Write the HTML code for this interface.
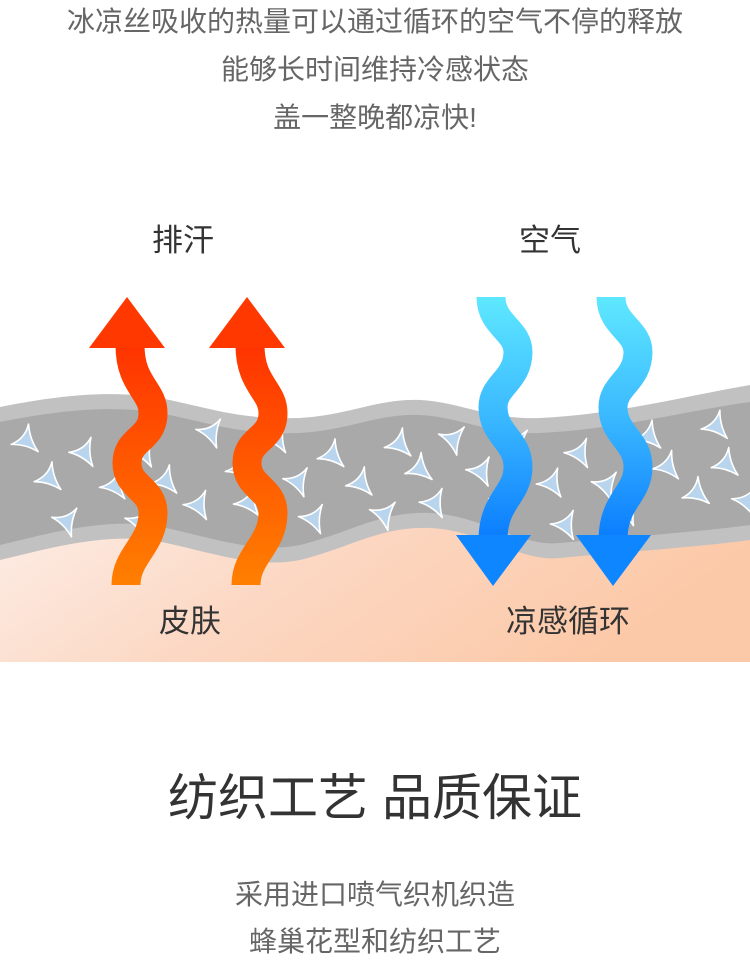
<!DOCTYPE html>
<html><head><meta charset="utf-8"><style>
html,body{margin:0;padding:0;background:#fff;width:750px;height:960px;overflow:hidden}
.t{position:absolute;left:0;width:750px;text-align:center;font-family:"Liberation Sans","Noto Sans CJK SC",sans-serif;white-space:nowrap;line-height:1.2}
</style></head><body>
<svg id="s" width="750" height="960" style="position:absolute;left:0;top:0" xmlns="http://www.w3.org/2000/svg">
<defs>
<linearGradient id="skin" x1="0" y1="0" x2="1" y2="0.3"><stop offset="0" stop-color="#fdeee8"/><stop offset="0.5" stop-color="#fcd7c2"/><stop offset="1" stop-color="#fcc9a8"/></linearGradient>
<linearGradient id="or" x1="0" y1="1" x2="0" y2="0"><stop offset="0" stop-color="#ff7f00"/><stop offset="1" stop-color="#ff3300"/></linearGradient>
<linearGradient id="bl" x1="0" y1="0" x2="0" y2="1"><stop offset="0" stop-color="#5ee8ff"/><stop offset="0.5" stop-color="#3ab8ff"/><stop offset="1" stop-color="#0a7cff"/></linearGradient>
</defs>
<rect x="0" y="500" width="750" height="162" fill="url(#skin)"/>
<path d="M0,407 C60,395 110,390 160,398 C210,408 240,420 300,418 C350,415 380,398 420,400 C460,402 490,420 540,418 C620,414 690,395 750,385 L750,540 C690,548 620,552 560,558 C520,562 480,530 430,528 C380,526 350,548 300,560 C250,570 200,548 150,540 C100,534 50,548 0,560 Z" fill="#c1c1c1"/>
<path d="M0,422 C60,410 110,405 160,413 C210,423 240,435 300,433 C350,430 380,413 420,415 C460,417 490,435 540,433 C620,429 690,410 750,402 L750,525 C690,533 620,537 560,543 C520,547 480,515 430,513 C380,511 350,533 300,545 C250,555 200,533 150,525 C100,519 50,533 0,545 Z" fill="#a9a9a9"/>
<g id="tri"></g>
<g fill="none" stroke="url(#or)" stroke-width="29">
<path d="M126,585 C126,555 153,545 153,513 C153,488 127,488 127,463 C127,438 153,440 153,413 C153,390 130,385 130,345"/>
<path d="M246,585 C246,555 273,545 273,513 C273,488 247,488 247,463 C247,438 273,440 273,413 C273,390 250,385 250,345"/>
</g>
<polygon points="127,297 165,348 89,348" fill="#ff3800"/>
<polygon points="247,297 285,348 209,348" fill="#ff3800"/>
<g fill="none" stroke="url(#bl)" stroke-width="29">
<path d="M491,297 C491,325 518,330 518,352 C518,380 493,385 493,407 C493,435 518,440 518,467 C518,495 493,500 493,540"/>
<path d="M611,297 C611,325 638,330 638,352 C638,380 613,385 613,407 C613,435 638,440 638,467 C638,495 613,500 613,540"/>
</g>
<polygon points="456,535 531,535 493,586" fill="#0e86ff"/>
<polygon points="576,535 651,535 613,586" fill="#0e86ff"/>
</svg>
<script>
(function(){
var g=document.getElementById('tri');
function mid(x){return 478+10*Math.sin((x-40)/120*Math.PI)-(x>600?(x-600)/15:0);}
var seed=7;function r(){seed=(seed*9301+49297)%233280;return seed/233280;}
var out='';
for(var row=-1;row<=1;row++){
 for(var x=25+(row+1)*22;x<760;x+=62){
  var px=x+(r()-0.5)*16, py=mid(px)+row*34+(r()-0.5)*10;
  var rot=(r()-0.5)*40;
  out+='<path transform="translate('+px.toFixed(1)+','+py.toFixed(1)+') rotate('+rot.toFixed(1)+')" d="M-14,0 Q1,-2 8,-15 Q5,0 10,14 Q-1,3 -14,0 Z" fill="#b9d5ee" stroke="#fff" stroke-width="1.6" stroke-linejoin="round"/>';
 }
}
g.innerHTML=out;
})();
</script>
<div class="t" style="top:5px;font-size:28px;color:#666">冰凉丝吸收的热量可以通过循环的空气不停的释放</div>
<div class="t" style="top:53px;font-size:28px;color:#666">能够长时间维持冷感状态</div>
<div class="t" style="top:101px;font-size:28px;color:#666">盖一整晚都凉快!</div>
<div class="t" style="top:222px;font-size:31px;color:#333;left:83px;width:200px">排汗</div>
<div class="t" style="top:222px;font-size:31px;color:#333;left:450px;width:200px">空气</div>
<div class="t" style="top:603px;font-size:31px;color:#333;left:90px;width:200px">皮肤</div>
<div class="t" style="top:603px;font-size:31px;color:#333;left:468px;width:200px">凉感循环</div>
<div class="t" style="top:768px;font-size:50px;color:#333">纺织工艺 品质保证</div>
<div class="t" style="top:878px;font-size:28px;color:#666">采用进口喷气织机织造</div>
<div class="t" style="top:925px;font-size:28px;color:#666">蜂巢花型和纺织工艺</div>
</body></html>
